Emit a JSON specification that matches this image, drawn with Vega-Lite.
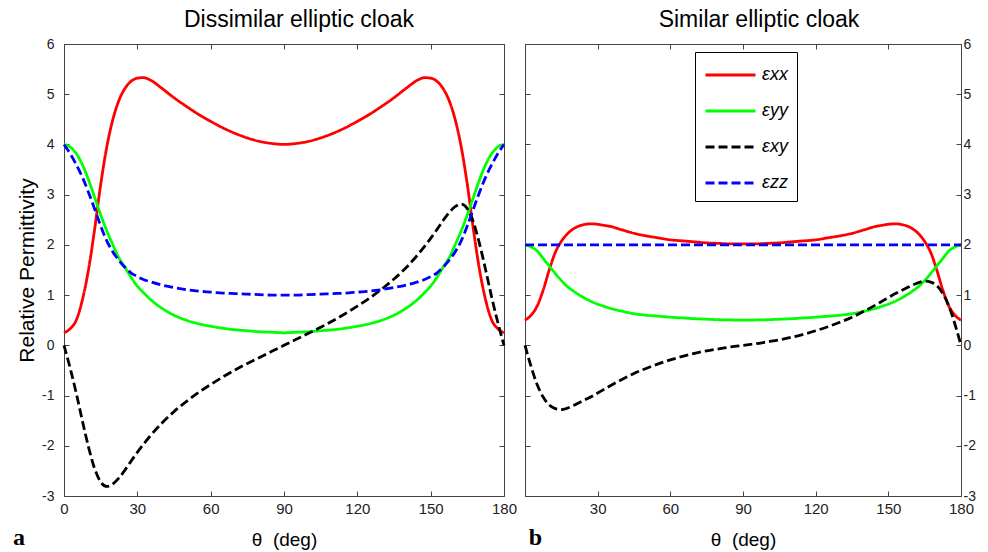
{
  "$schema": "https://vega.github.io/schema/vega-lite/v6.json",
  "background": "white",
  "padding": {"left": 13, "top": 9, "right": 0, "bottom": 0},
  "spacing": 2,
  "config": {
    "font": "Liberation Sans",
    "view": {"stroke": null},
    "axis": {
      "domainColor": "#444", "tickColor": "#444", "labelColor": "#222",
      "labelFont": "Liberation Sans", "labelFontSize": 14, "grid": false,
      "tickSize": -5, "domainWidth": 1, "tickWidth": 1, "labelFlush": false,
      "labelOverlap": false,
      "titleFont": "Liberation Sans", "titleFontWeight": "normal", "titleColor": "#000", "titleFontSize": 18
    },
    "title": {"font": "Liberation Sans", "fontSize": 23, "fontWeight": "normal", "color": "#000", "offset": 5}
  },
  "datasets": {
    "dis": [
      {"t": 0, "xx": 0.25, "yy": 4.0, "xy": 0, "zz": 4.0},
      {"t": 2.5, "xx": 0.33, "yy": 3.95, "xy": -0.45, "zz": 3.82},
      {"t": 5, "xx": 0.5, "yy": 3.82, "xy": -0.95, "zz": 3.6},
      {"t": 7.5, "xx": 0.9, "yy": 3.6, "xy": -1.5, "zz": 3.35},
      {"t": 10, "xx": 1.5, "yy": 3.3, "xy": -2.02, "zz": 3.05},
      {"t": 12.5, "xx": 2.3, "yy": 2.95, "xy": -2.45, "zz": 2.72},
      {"t": 15, "xx": 3.2, "yy": 2.6, "xy": -2.72, "zz": 2.38},
      {"t": 17.5, "xx": 3.95, "yy": 2.28, "xy": -2.81, "zz": 2.08},
      {"t": 20, "xx": 4.5, "yy": 2.0, "xy": -2.76, "zz": 1.86},
      {"t": 22.5, "xx": 4.88, "yy": 1.74, "xy": -2.64, "zz": 1.69},
      {"t": 25, "xx": 5.12, "yy": 1.55, "xy": -2.48, "zz": 1.55},
      {"t": 27.5, "xx": 5.26, "yy": 1.35, "xy": -2.3, "zz": 1.44},
      {"t": 30, "xx": 5.32, "yy": 1.18, "xy": -2.13, "zz": 1.37},
      {"t": 32.5, "xx": 5.33, "yy": 1.05, "xy": -1.97, "zz": 1.31},
      {"t": 35, "xx": 5.29, "yy": 0.93, "xy": -1.82, "zz": 1.27},
      {"t": 40, "xx": 5.12, "yy": 0.74, "xy": -1.55, "zz": 1.2},
      {"t": 45, "xx": 4.93, "yy": 0.6, "xy": -1.32, "zz": 1.15},
      {"t": 50, "xx": 4.76, "yy": 0.5, "xy": -1.12, "zz": 1.11},
      {"t": 55, "xx": 4.6, "yy": 0.43, "xy": -0.94, "zz": 1.08},
      {"t": 60, "xx": 4.46, "yy": 0.38, "xy": -0.78, "zz": 1.06},
      {"t": 65, "xx": 4.33, "yy": 0.34, "xy": -0.63, "zz": 1.04},
      {"t": 70, "xx": 4.22, "yy": 0.31, "xy": -0.49, "zz": 1.03},
      {"t": 75, "xx": 4.13, "yy": 0.29, "xy": -0.36, "zz": 1.02},
      {"t": 80, "xx": 4.06, "yy": 0.27, "xy": -0.24, "zz": 1.01},
      {"t": 85, "xx": 4.02, "yy": 0.26, "xy": -0.12, "zz": 1.0},
      {"t": 90, "xx": 4.0, "yy": 0.25, "xy": 0, "zz": 1.0},
      {"t": 95, "xx": 4.02, "yy": 0.26, "xy": 0.12, "zz": 1.0},
      {"t": 100, "xx": 4.06, "yy": 0.27, "xy": 0.24, "zz": 1.01},
      {"t": 105, "xx": 4.13, "yy": 0.29, "xy": 0.36, "zz": 1.02},
      {"t": 110, "xx": 4.22, "yy": 0.31, "xy": 0.49, "zz": 1.03},
      {"t": 115, "xx": 4.33, "yy": 0.34, "xy": 0.63, "zz": 1.04},
      {"t": 120, "xx": 4.46, "yy": 0.38, "xy": 0.78, "zz": 1.06},
      {"t": 125, "xx": 4.6, "yy": 0.43, "xy": 0.94, "zz": 1.08},
      {"t": 130, "xx": 4.76, "yy": 0.5, "xy": 1.12, "zz": 1.11},
      {"t": 135, "xx": 4.93, "yy": 0.6, "xy": 1.32, "zz": 1.15},
      {"t": 140, "xx": 5.12, "yy": 0.74, "xy": 1.55, "zz": 1.2},
      {"t": 145, "xx": 5.29, "yy": 0.93, "xy": 1.82, "zz": 1.27},
      {"t": 147.5, "xx": 5.33, "yy": 1.05, "xy": 1.97, "zz": 1.31},
      {"t": 150, "xx": 5.32, "yy": 1.18, "xy": 2.13, "zz": 1.37},
      {"t": 152.5, "xx": 5.26, "yy": 1.35, "xy": 2.3, "zz": 1.44},
      {"t": 155, "xx": 5.12, "yy": 1.55, "xy": 2.48, "zz": 1.55},
      {"t": 157.5, "xx": 4.88, "yy": 1.74, "xy": 2.64, "zz": 1.69},
      {"t": 160, "xx": 4.5, "yy": 2.0, "xy": 2.76, "zz": 1.86},
      {"t": 162.5, "xx": 3.95, "yy": 2.28, "xy": 2.81, "zz": 2.08},
      {"t": 165, "xx": 3.2, "yy": 2.6, "xy": 2.72, "zz": 2.38},
      {"t": 167.5, "xx": 2.3, "yy": 2.95, "xy": 2.45, "zz": 2.72},
      {"t": 170, "xx": 1.5, "yy": 3.3, "xy": 2.02, "zz": 3.05},
      {"t": 172.5, "xx": 0.9, "yy": 3.6, "xy": 1.5, "zz": 3.35},
      {"t": 175, "xx": 0.5, "yy": 3.82, "xy": 0.95, "zz": 3.6},
      {"t": 177.5, "xx": 0.33, "yy": 3.95, "xy": 0.45, "zz": 3.82},
      {"t": 180, "xx": 0.25, "yy": 4.0, "xy": 0, "zz": 4.0}
    ],
    "sim": [
      {"t": 0, "xx": 0.5, "yy": 2.0, "xy": 0, "zz": 2},
      {"t": 2.5, "xx": 0.6, "yy": 1.96, "xy": -0.42, "zz": 2},
      {"t": 5, "xx": 0.78, "yy": 1.88, "xy": -0.78, "zz": 2},
      {"t": 7.5, "xx": 1.1, "yy": 1.73, "xy": -1.03, "zz": 2},
      {"t": 10, "xx": 1.5, "yy": 1.58, "xy": -1.19, "zz": 2},
      {"t": 12.5, "xx": 1.85, "yy": 1.43, "xy": -1.26, "zz": 2},
      {"t": 15, "xx": 2.07, "yy": 1.29, "xy": -1.28, "zz": 2},
      {"t": 17.5, "xx": 2.22, "yy": 1.17, "xy": -1.25, "zz": 2},
      {"t": 20, "xx": 2.32, "yy": 1.08, "xy": -1.2, "zz": 2},
      {"t": 22.5, "xx": 2.38, "yy": 1.0, "xy": -1.14, "zz": 2},
      {"t": 25, "xx": 2.41, "yy": 0.93, "xy": -1.08, "zz": 2},
      {"t": 27.5, "xx": 2.42, "yy": 0.87, "xy": -1.02, "zz": 2},
      {"t": 30, "xx": 2.41, "yy": 0.82, "xy": -0.95, "zz": 2},
      {"t": 32.5, "xx": 2.39, "yy": 0.78, "xy": -0.88, "zz": 2},
      {"t": 35, "xx": 2.37, "yy": 0.74, "xy": -0.81, "zz": 2},
      {"t": 40, "xx": 2.3, "yy": 0.68, "xy": -0.68, "zz": 2},
      {"t": 45, "xx": 2.23, "yy": 0.63, "xy": -0.56, "zz": 2},
      {"t": 50, "xx": 2.18, "yy": 0.6, "xy": -0.46, "zz": 2},
      {"t": 55, "xx": 2.14, "yy": 0.58, "xy": -0.37, "zz": 2},
      {"t": 60, "xx": 2.1, "yy": 0.56, "xy": -0.29, "zz": 2},
      {"t": 65, "xx": 2.08, "yy": 0.545, "xy": -0.22, "zz": 2},
      {"t": 70, "xx": 2.06, "yy": 0.53, "xy": -0.16, "zz": 2},
      {"t": 75, "xx": 2.04, "yy": 0.52, "xy": -0.11, "zz": 2},
      {"t": 80, "xx": 2.03, "yy": 0.51, "xy": -0.07, "zz": 2},
      {"t": 85, "xx": 2.02, "yy": 0.505, "xy": -0.03, "zz": 2},
      {"t": 90, "xx": 2.02, "yy": 0.5, "xy": 0, "zz": 2},
      {"t": 95, "xx": 2.02, "yy": 0.505, "xy": 0.03, "zz": 2},
      {"t": 100, "xx": 2.03, "yy": 0.51, "xy": 0.07, "zz": 2},
      {"t": 105, "xx": 2.04, "yy": 0.52, "xy": 0.11, "zz": 2},
      {"t": 110, "xx": 2.06, "yy": 0.53, "xy": 0.16, "zz": 2},
      {"t": 115, "xx": 2.08, "yy": 0.545, "xy": 0.22, "zz": 2},
      {"t": 120, "xx": 2.1, "yy": 0.56, "xy": 0.29, "zz": 2},
      {"t": 125, "xx": 2.14, "yy": 0.58, "xy": 0.37, "zz": 2},
      {"t": 130, "xx": 2.18, "yy": 0.6, "xy": 0.46, "zz": 2},
      {"t": 135, "xx": 2.23, "yy": 0.63, "xy": 0.56, "zz": 2},
      {"t": 140, "xx": 2.3, "yy": 0.68, "xy": 0.68, "zz": 2},
      {"t": 145, "xx": 2.37, "yy": 0.74, "xy": 0.81, "zz": 2},
      {"t": 147.5, "xx": 2.39, "yy": 0.78, "xy": 0.88, "zz": 2},
      {"t": 150, "xx": 2.41, "yy": 0.82, "xy": 0.95, "zz": 2},
      {"t": 152.5, "xx": 2.42, "yy": 0.87, "xy": 1.02, "zz": 2},
      {"t": 155, "xx": 2.41, "yy": 0.93, "xy": 1.08, "zz": 2},
      {"t": 157.5, "xx": 2.38, "yy": 1.0, "xy": 1.14, "zz": 2},
      {"t": 160, "xx": 2.32, "yy": 1.08, "xy": 1.2, "zz": 2},
      {"t": 162.5, "xx": 2.22, "yy": 1.17, "xy": 1.25, "zz": 2},
      {"t": 165, "xx": 2.07, "yy": 1.29, "xy": 1.28, "zz": 2},
      {"t": 167.5, "xx": 1.85, "yy": 1.43, "xy": 1.26, "zz": 2},
      {"t": 170, "xx": 1.5, "yy": 1.58, "xy": 1.19, "zz": 2},
      {"t": 172.5, "xx": 1.1, "yy": 1.73, "xy": 1.03, "zz": 2},
      {"t": 175, "xx": 0.78, "yy": 1.88, "xy": 0.78, "zz": 2},
      {"t": 177.5, "xx": 0.6, "yy": 1.96, "xy": 0.42, "zz": 2},
      {"t": 180, "xx": 0.5, "yy": 2.0, "xy": 0, "zz": 2}
    ]
  },
  "resolve": {"scale": {"color": "independent", "strokeDash": "independent"}},
  "hconcat": [
    {
      "width": 440,
      "height": 452,
      "title": {"text": "Dissimilar elliptic cloak", "dx": 15},
      "resolve": {"axis": {"x": "independent", "y": "independent"}},
      "layer": [
        {
          "data": {"name": "dis"},
          "transform": [{"fold": ["xx", "yy"], "as": ["series", "value"]}],
          "mark": {"type": "line", "strokeWidth": 2.8, "interpolate": "monotone"},
          "encoding": {
            "x": {"field": "t", "type": "quantitative", "scale": {"domain": [0, 180], "nice": false, "zero": false},
                  "axis": {"orient": "bottom", "values": [0, 30, 60, 90, 120, 150, 180], "title": "θ\u00a0\u00a0(deg)", "labelPadding": 10, "titlePadding": 14, "labelFontSize": 15, "titleFontSize": 19}},
            "y": {"field": "value", "type": "quantitative", "scale": {"domain": [-3, 6], "nice": false, "zero": false},
                  "axis": {"orient": "left", "values": [-3, -2, -1, 0, 1, 2, 3, 4, 5, 6], "labelExpr": "'' + datum.value", "title": "Relative Permittivity", "titleFontSize": 21, "labelPadding": 15, "titlePadding": 4}},
            "color": {"field": "series", "type": "nominal", "scale": {"domain": ["xx", "yy", "xy", "zz"], "range": ["#ff0000", "#00ff00", "#000000", "#0000ff"]}, "legend": null},
            "strokeDash": {"field": "series", "type": "nominal", "scale": {"domain": ["xx", "yy", "xy", "zz"], "range": [[1, 0], [1, 0], [9, 4], [9, 4]]}, "legend": null}
          }
        },
        {
          "data": {"name": "dis"},
          "transform": [{"fold": ["xy", "zz"], "as": ["series", "value"]}],
          "mark": {"type": "line", "strokeWidth": 2.8, "interpolate": "monotone"},
          "encoding": {
            "x": {"field": "t", "type": "quantitative", "scale": {"domain": [0, 180], "nice": false, "zero": false},
                  "axis": {"orient": "top", "values": [0, 30, 60, 90, 120, 150, 180], "labels": false, "title": null}},
            "y": {"field": "value", "type": "quantitative", "scale": {"domain": [-3, 6], "nice": false, "zero": false},
                  "axis": {"orient": "right", "values": [-3, -2, -1, 0, 1, 2, 3, 4, 5, 6], "labels": false, "title": null}},
            "color": {"field": "series", "type": "nominal", "scale": {"domain": ["xx", "yy", "xy", "zz"], "range": ["#ff0000", "#00ff00", "#000000", "#0000ff"]}, "legend": null},
            "strokeDash": {"field": "series", "type": "nominal", "scale": {"domain": ["xx", "yy", "xy", "zz"], "range": [[1, 0], [1, 0], [9, 4], [9, 4]]}, "legend": null}
          }
        },
        {
          "data": {"values": [{"label": "a"}]},
          "mark": {"type": "text", "font": "Liberation Serif", "fontWeight": "bold", "fontSize": 24, "baseline": "alphabetic", "align": "center", "color": "#000"},
          "encoding": {
            "text": {"field": "label"},
            "x": {"datum": -18.4, "type": "quantitative", "axis": null},
            "y": {"datum": -3.97, "type": "quantitative", "axis": null}
          }
        }
      ]
    },
    {
      "width": 436,
      "height": 452,
      "title": {"text": "Similar elliptic cloak", "dx": 16},
      "resolve": {"axis": {"x": "independent", "y": "independent"}},
      "layer": [
        {
          "data": {"name": "sim"},
          "transform": [{"fold": ["xx", "yy"], "as": ["series", "value"]}],
          "mark": {"type": "line", "strokeWidth": 2.8, "interpolate": "monotone"},
          "encoding": {
            "x": {"field": "t", "type": "quantitative", "scale": {"domain": [0, 180], "nice": false, "zero": false},
                  "axis": {"orient": "bottom", "values": [0, 30, 60, 90, 120, 150, 180], "title": "θ\u00a0\u00a0(deg)", "labelPadding": 10, "titlePadding": 14, "labelFontSize": 15, "titleFontSize": 19, "labelExpr": "datum.value == 0 ? '' : datum.label"}},
            "y": {"field": "value", "type": "quantitative", "scale": {"domain": [-3, 6], "nice": false, "zero": false},
                  "axis": {"orient": "right", "values": [-3, -2, -1, 0, 1, 2, 3, 4, 5, 6], "labelExpr": "'' + datum.value", "title": null, "labelPadding": 7}},
            "color": {"field": "series", "type": "nominal", "scale": {"domain": ["xx", "yy", "xy", "zz"], "range": ["#ff0000", "#00ff00", "#000000", "#0000ff"]},
                      "legend": {"orient": "none", "legendX": 170, "legendY": 8, "title": null, "strokeColor": "#000", "fillColor": "#fff", "padding": 9, "symbolType": "M-1,0H3", "symbolSize": 625, "symbolStrokeWidth": 3, "labelFontSize": 18, "labelFontStyle": "italic", "labelFont": "Liberation Sans", "labelColor": "#000", "rowPadding": 13, "labelOffset": 30, "labelExpr": "'ε' + datum.label"}},
            "strokeDash": {"field": "series", "type": "nominal", "scale": {"domain": ["xx", "yy", "xy", "zz"], "range": [[1, 0], [1, 0], [9, 4], [9, 4]]},
                      "legend": {"orient": "none", "legendX": 170, "legendY": 8, "title": null, "strokeColor": "#000", "fillColor": "#fff", "padding": 9, "symbolType": "M-1,0H3", "symbolSize": 625, "symbolStrokeWidth": 3, "labelFontSize": 18, "labelFontStyle": "italic", "labelFont": "Liberation Sans", "labelColor": "#000", "rowPadding": 13, "labelOffset": 30, "labelExpr": "'ε' + datum.label"}}
          }
        },
        {
          "data": {"name": "sim"},
          "transform": [{"fold": ["xy", "zz"], "as": ["series", "value"]}],
          "mark": {"type": "line", "strokeWidth": 2.8, "interpolate": "monotone"},
          "encoding": {
            "x": {"field": "t", "type": "quantitative", "scale": {"domain": [0, 180], "nice": false, "zero": false},
                  "axis": {"orient": "top", "values": [0, 30, 60, 90, 120, 150, 180], "labels": false, "title": null}},
            "y": {"field": "value", "type": "quantitative", "scale": {"domain": [-3, 6], "nice": false, "zero": false},
                  "axis": {"orient": "left", "values": [-3, -2, -1, 0, 1, 2, 3, 4, 5, 6], "labels": false, "title": null}},
            "color": {"field": "series", "type": "nominal", "scale": {"domain": ["xx", "yy", "xy", "zz"], "range": ["#ff0000", "#00ff00", "#000000", "#0000ff"]}},
            "strokeDash": {"field": "series", "type": "nominal", "scale": {"domain": ["xx", "yy", "xy", "zz"], "range": [[1, 0], [1, 0], [9, 4], [9, 4]]}}
          }
        },
        {
          "data": {"values": [{"label": "b"}]},
          "mark": {"type": "text", "font": "Liberation Serif", "fontWeight": "bold", "fontSize": 24, "baseline": "alphabetic", "align": "center", "color": "#000"},
          "encoding": {
            "text": {"field": "label"},
            "x": {"datum": 4.3, "type": "quantitative", "axis": null},
            "y": {"datum": -3.97, "type": "quantitative", "axis": null}
          }
        }
      ]
    }
  ]
}
